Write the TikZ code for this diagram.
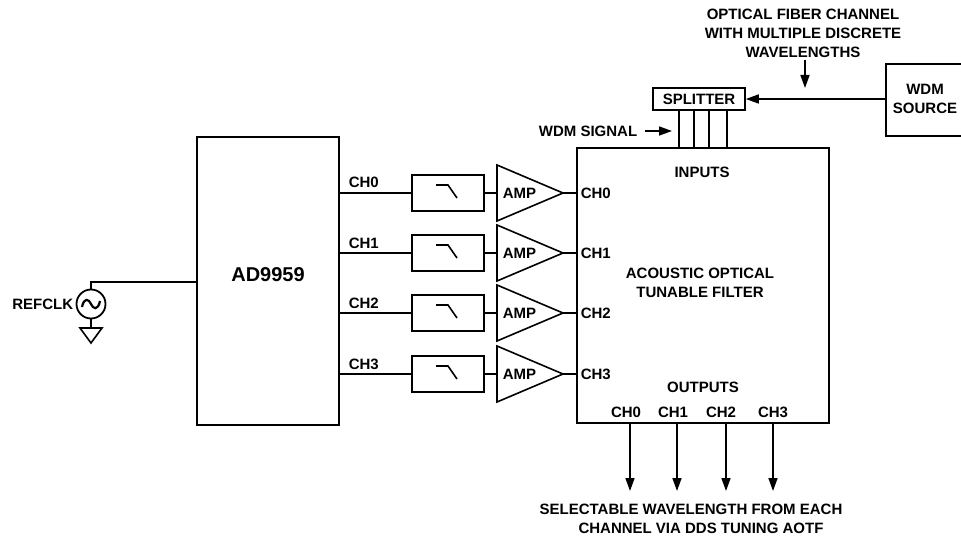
\documentclass[tikz,border=0pt]{standalone}
\usepackage{fontspec}
\setmainfont{Liberation Sans}
\usetikzlibrary{arrows.meta}
\begin{document}
\begin{tikzpicture}[x=1pt,y=-1pt, line width=1.6pt,
  lbl/.style={font=\fontsize{15}{19}\selectfont\bfseries, inner sep=0pt},
  box/.style={draw, line width=1.6pt, inner sep=0pt},
  tip/.style={-{Triangle[length=13pt,width=9pt]}}]
\useasboundingbox (0,0) rectangle (961,540);
\clip (0,0) rectangle (961,540);

% AD9959
\node[box, line width=2.4pt, minimum width=142pt, minimum height=288pt] (ad) at (268,281) {};
\node[lbl, font=\fontsize{20}{24}\selectfont\bfseries] (adl) at (268,275) {AD9959};

% AOTF
\node[box, minimum width=252pt, minimum height=275pt] (aotf) at (703,285.5) {};
\node[lbl] (inp) at (702,172) {INPUTS};
\node[lbl, align=center] (aotfl) at (700,283) {ACOUSTIC OPTICAL\\TUNABLE FILTER};
\node[lbl] (outp) at (703,387) {OUTPUTS};

% channels
\foreach \i/\y in {0/193,1/253,2/313,3/374}{
  \node[box, minimum width=72pt, minimum height=36pt] (f\i) at (448,\y) {};
  \draw ([shift={(-12,-8)}]f\i.center) -- ++(12,0) -- ++(9,13);
  \coordinate (ai\i) at (497,\y);
  \coordinate (ao\i) at (563,\y);
  \draw (497,\y-28) -- (ao\i) -- (497,\y+28) -- cycle;
  \node[lbl] (amp\i) at (519.5,\y+0.5) {AMP};
  \draw (ad.east |- f\i.west) -- (f\i.west);
  \node[lbl, anchor=base west] (cl\i) at (348,\y-5) {CH\i};
  \draw (f\i.east) -- (ai\i);
  \draw (ao\i) -- (aotf.west |- ao\i);
  \node[lbl, anchor=west] (ci\i) at (580,\y) {CH\i};
}

% splitter
\node[box, lbl, draw, line width=1.6pt, minimum width=92pt, minimum height=22pt] (spl) at (699,99) {SPLITTER};
\foreach \k/\x in {1/679,2/694,3/709,4/727}{
  \coordinate (s\k) at (\x,110);
  \draw (s\k) -- (s\k |- aotf.north);
}
\node[lbl, anchor=east] (wdms) at (638,131) {WDM SIGNAL};
\coordinate (wsa) at (672,131);
\draw[tip] ([xshift=7pt]wdms.east) -- (wsa);

% WDM source
\node[box, minimum width=100pt, minimum height=72pt, anchor=north west] (src) at (885,63) {};
\node[lbl, align=center] (srcl) at (925,98.5) {WDM\\SOURCE};
\draw[tip] (src.west |- spl.east) -- (spl.east);

% optical fiber text
\node[lbl, align=center] (opt) at (803,33) {OPTICAL FIBER CHANNEL\\WITH MULTIPLE DISCRETE\\WAVELENGTHS};
\coordinate (opta) at (805,88);
\draw[tip] (opta |- opt.south) ++(0,2) -- (opta);

% REFCLK
\node[draw, circle, line width=1.8pt, minimum size=29pt, inner sep=0pt] (clk) at (91,304) {};
\begin{scope}[shift={(clk.center)}, line width=2.2pt]
  \draw (-9,3) .. controls (-7,-7) and (-2,-5) .. (0,0) .. controls (2,5) and (7,7) .. (9,-3);
\end{scope}
\coordinate (rc) at (91,282);
\draw (clk.north) -- (rc) -- (rc -| ad.west);
\coordinate (g) at (91,328);
\draw (clk.south) -- (g);
\draw (g) ++(-11,0) -- ++(22,0) -- ++(-11,15) -- cycle;
\node[lbl, anchor=east] (rcl) at (74,304) {REFCLK};

% outputs
\foreach \i/\x/\lx in {0/630/626,1/677/673,2/726/721,3/773/773}{
  \node[lbl] (oc\i) at (\lx,412) {CH\i};
  \coordinate (oe\i) at (\x,491);
  \draw[tip] (aotf.south -| oe\i) -- (oe\i);
}
\node[lbl] (bt1) at (691,509) {SELECTABLE WAVELENGTH FROM EACH};
\node[lbl] (bt2) at (701,528) {CHANNEL VIA DDS TUNING AOTF};
\end{tikzpicture}
\end{document}
